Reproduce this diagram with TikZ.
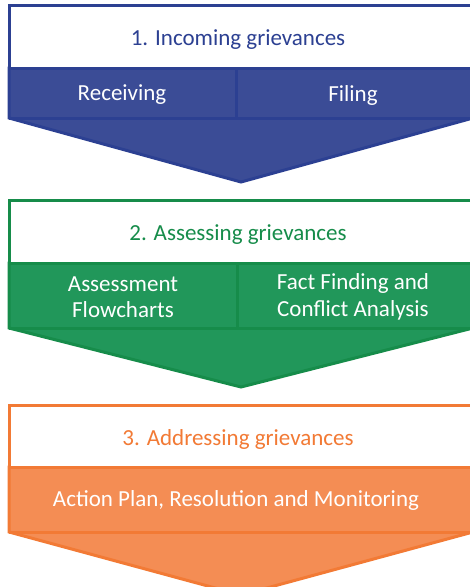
\documentclass[tikz,border=0pt]{standalone}
\usepackage{fontspec}
\setmainfont{Carlito}
\definecolor{blueD}{HTML}{2C4092}
\definecolor{blueF}{HTML}{3B4C96}
\definecolor{greenD}{HTML}{168C4A}
\definecolor{greenF}{HTML}{21975A}
\definecolor{orangeD}{HTML}{F27A35}
\definecolor{orangeF}{HTML}{F48D54}
\begin{document}
\begin{tikzpicture}[x=1pt,y=-1pt,
  txt/.style={font=\fontsize{23}{26.5}\selectfont, align=center, inner sep=0pt, text=white},
  ttl/.style={font=\fontsize{23}{26.5}\selectfont, inner sep=0pt},
  outl/.style={line width=3pt, line join=miter}]
\useasboundingbox (0,0) rectangle (470,587);
\clip (0,0) rectangle (470,587);
% ---------- block 1 ----------
\filldraw[outl, draw=blueD, fill=blueF] (9,68) -- (473,68) -- (473,118) -- (241,182) -- (9,118) -- cycle;
\draw[outl, blueD] (9,118) -- (473,118);
\draw[outl, draw=blueD, fill=white] (9,5) rectangle (473,68);
\draw[outl, blueD] (236,68) -- (236,118);
\node[ttl, text=blueD] (t1) at (238,40) {1. Incoming grievances};
\node[txt] (r1) at (122,95) {Receiving};
\node[txt] (f1) at (353,95) {Filing};
% ---------- block 2 ----------
\filldraw[outl, draw=greenD, fill=greenF] (9,263) -- (473,263) -- (473,328) -- (241,387) -- (9,328) -- cycle;
\draw[outl, greenD] (9,328) -- (473,328);
\draw[outl, draw=greenD, fill=white] (9,200) rectangle (473,263);
\draw[outl, greenD] (237,263) -- (237,328);
\node[ttl, text=greenD] (t2) at (238,235) {2. Assessing grievances};
\node[txt] (a2) at (123,297) {Assessment\\Flowcharts};
\node[txt] (c2) at (353,297) {Fact Finding and\\Conflict Analysis};
% ---------- block 3 ----------
\filldraw[outl, draw=orangeD, fill=orangeF] (9,467) -- (473,467) -- (473,532) -- (241,595) -- (9,532) -- cycle;
\draw[outl, orangeD] (9,532) -- (473,532);
\draw[outl, draw=orangeD, fill=white] (9,405) rectangle (473,467);
\node[ttl, text=orangeD] (t3) at (238,439) {3. Addressing grievances};
\node[txt] (p3) at (236,500) {Action Plan, Resolution and Monitoring};
\end{tikzpicture}
\end{document}
